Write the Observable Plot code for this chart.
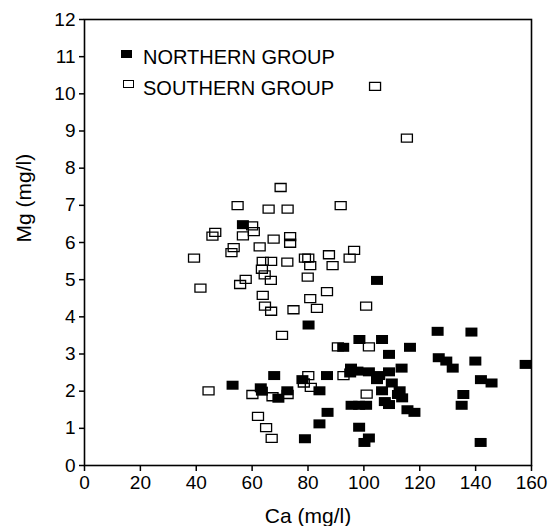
<!DOCTYPE html>
<html>
<head>
<meta charset="utf-8">
<script src="https://cdn.jsdelivr.net/npm/d3@7"></script>
<script src="https://cdn.jsdelivr.net/npm/@observablehq/plot@0.6"></script>
<style>
  body { margin: 0; background: #fff; }
  #wrap { position: relative; width: 554px; height: 526px; font-family: "Liberation Sans", Arial, sans-serif; }
  .leg { position: absolute; font-size: 20px; color: #000; white-space: nowrap; line-height: 1; }
  .sw { position: absolute; box-sizing: border-box; width: 11px; height: 8px; }
</style>
</head>
<body>
<div id="wrap"></div>
<script>
// ---- data (Ca mg/l, Mg mg/l) ----
const groups = ["NORTHERN GROUP", "SOUTHERN GROUP"];

const northCa = [56.7,104.7,80.2,126.4,138.5,98.4,106.5,92.6,116.5,109.0,126.8,129.5,139.9,131.8,113.5,157.9,95.4,95.1,97.7,101.8,105.5,109.0,104.7,141.9,145.7,110.0,67.9,86.8,78.0,53.0,63.1,63.5,72.6,84.1,106.5,112.8,135.6,69.4,107.5,113.7,109.0,112.2,95.6,100.8,98.3,135.0,115.6,118.1,87.0,84.1,98.3,78.9,101.8,100.2,141.8];
const northMg = [6.48,4.98,3.78,3.61,3.59,3.39,3.39,3.18,3.18,2.99,2.90,2.81,2.81,2.62,2.62,2.72,2.62,2.49,2.54,2.52,2.42,2.52,2.31,2.31,2.22,2.22,2.42,2.42,2.31,2.16,2.09,2.00,2.01,2.01,2.01,2.01,1.91,1.81,1.72,1.82,1.64,1.91,1.62,1.62,1.62,1.62,1.50,1.43,1.43,1.12,1.03,0.72,0.74,0.62,0.62];

const southCa = [104.0,115.4,70.2,54.8,65.9,72.7,91.7,60.0,60.6,46.8,45.8,56.7,73.6,73.6,67.7,53.4,52.6,62.7,39.2,63.8,66.8,72.6,78.9,80.1,80.8,87.5,88.8,94.9,96.5,63.5,64.5,66.7,57.7,55.7,79.9,41.5,63.8,86.8,80.8,64.6,66.8,74.8,83.2,100.8,70.7,90.7,101.8,80.1,78.5,81.0,92.7,44.4,60.1,67.3,72.7,101.0,62.1,65.0,67.0];
const southMg = [10.2,8.81,7.48,6.99,6.90,6.90,6.99,6.45,6.29,6.27,6.17,6.18,6.16,5.98,6.09,5.86,5.73,5.88,5.58,5.49,5.49,5.47,5.58,5.58,5.38,5.67,5.38,5.58,5.79,5.28,5.13,4.98,5.01,4.87,5.07,4.77,4.58,4.68,4.49,4.29,4.15,4.19,4.23,4.29,3.50,3.19,3.19,2.42,2.22,2.10,2.42,2.01,1.91,1.85,1.91,1.92,1.32,1.02,0.73];

const xTicks = [0,20,40,60,80,100,120,140,160];
const yTicks = [0,1,2,3,4,5,6,7,8,9,10,11,12];
const xLabel = "Ca (mg/l)";
const yLabel = "Mg (mg/l)";

// ---- build ----
const north = northCa.map((c, i) => ({ca: c, mg: northMg[i]}));
const south = southCa.map((c, i) => ({ca: c, mg: southMg[i]}));

function rectSym(w, h) {
  return { draw(ctx) {
    ctx.moveTo(-w/2, -h/2); ctx.lineTo(w/2, -h/2); ctx.lineTo(w/2, h/2); ctx.lineTo(-w/2, h/2); ctx.closePath();
  }};
}

const chart = Plot.plot({
  width: 554,
  height: 526,
  marginLeft: 84,
  marginRight: 23,
  marginTop: 19,
  marginBottom: 61,
  style: { fontFamily: "'Liberation Sans', Arial, sans-serif", fontSize: "19px", color: "#000", background: "#fff" },
  x: { domain: [0, 160] },
  y: { domain: [0, 12] },
  marks: [
    Plot.frame({ stroke: "#000", strokeWidth: 1.6 }),
    Plot.axisX({ ticks: xTicks, tickSize: 6, tickPadding: 4, tickFormat: d => d, label: null, fontSize: 19, strokeWidth: 1.5 }),
    Plot.axisY({ ticks: yTicks, tickSize: 5, tickPadding: 4, tickFormat: d => d, label: null, fontSize: 19, strokeWidth: 1.5 }),
    Plot.dot(south, { x: "ca", y: "mg", symbol: rectSym(11, 8), fill: "none", stroke: "#000", strokeWidth: 1.3 }),
    Plot.dot(north, { x: "ca", y: "mg", symbol: rectSym(12, 9), fill: "#000", stroke: "none" }),
    Plot.text([xLabel], { text: d => d, frameAnchor: "bottom", dy: 57, lineAnchor: "bottom", fontSize: 21 }),
    Plot.text([yLabel], { text: d => d, frameAnchor: "left", dx: -60, rotate: -90, fontSize: 21 })
  ]
});

const wrap = document.getElementById("wrap");
wrap.appendChild(chart);

// legend (HTML overlay inside plot area)
const legendStyles = [
  { sw: "background:#000;", left: 121, top: 50, textLeft: 143, textTop: 47 },
  { sw: "border:1.3px solid #000;", left: 123, top: 80, textLeft: 143, textTop: 78 }
];
groups.forEach((g, i) => {
  const s = legendStyles[i];
  const sw = document.createElement("div");
  sw.className = "sw";
  sw.style.cssText = s.sw + `left:${s.left}px;top:${s.top}px;`;
  wrap.appendChild(sw);
  const t = document.createElement("div");
  t.className = "leg";
  t.style.left = s.textLeft + "px";
  t.style.top = s.textTop + "px";
  t.textContent = g;
  wrap.appendChild(t);
});
</script>
</body>
</html>
